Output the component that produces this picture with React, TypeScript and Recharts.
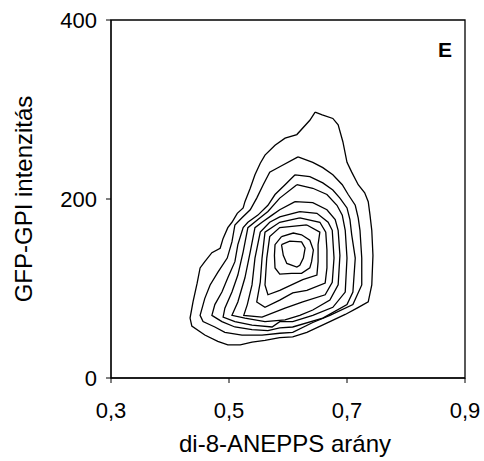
import { ScatterChart, Scatter, XAxis, YAxis, ReferenceArea, Label } from "recharts"

// contour levels, outermost first as (ratio, intensity)
const level1: [number, number][] = [
  [0.646, 297], [0.658, 294], [0.676, 290], [0.685, 283], [0.693, 264], [0.7, 241], [0.708, 230],
  [0.719, 216], [0.73, 207], [0.736, 197], [0.739, 182], [0.742, 165], [0.744, 137], [0.742, 104],
  [0.736, 85], [0.717, 78], [0.697, 71], [0.671, 63], [0.632, 51], [0.608, 46], [0.586, 45],
  [0.561, 42], [0.539, 40], [0.519, 37], [0.498, 37], [0.481, 41], [0.459, 48], [0.437, 58],
  [0.434, 67], [0.439, 85], [0.446, 106], [0.451, 123], [0.459, 130], [0.471, 140], [0.485, 145],
  [0.49, 156], [0.498, 168], [0.505, 174], [0.514, 184], [0.524, 190], [0.527, 197], [0.536, 212],
  [0.544, 227], [0.553, 240], [0.561, 249], [0.578, 260], [0.595, 268], [0.615, 272], [0.637, 288],
]
const level2: [number, number][] = [
  [0.617, 247], [0.642, 241], [0.659, 235], [0.676, 227], [0.692, 216], [0.702, 205], [0.714, 193],
  [0.719, 179], [0.722, 165], [0.725, 134], [0.725, 104], [0.71, 82], [0.671, 70], [0.642, 62],
  [0.608, 51], [0.586, 50], [0.556, 48], [0.522, 48], [0.493, 51], [0.476, 57], [0.456, 63],
  [0.451, 70], [0.459, 89], [0.468, 104], [0.481, 118], [0.497, 134], [0.505, 152], [0.51, 171],
  [0.522, 179], [0.536, 188], [0.547, 201], [0.558, 216], [0.569, 230], [0.586, 236],
]
const level3: [number, number][] = [
  [0.612, 227], [0.637, 225], [0.659, 218], [0.676, 210], [0.688, 201], [0.7, 190], [0.705, 177],
  [0.708, 160], [0.714, 134], [0.71, 96], [0.7, 82], [0.659, 67], [0.608, 57], [0.586, 56],
  [0.566, 53], [0.539, 54], [0.51, 57], [0.488, 63], [0.471, 70], [0.476, 82], [0.488, 96],
  [0.498, 112], [0.51, 130], [0.515, 149], [0.524, 168], [0.532, 174], [0.549, 182], [0.566, 193],
  [0.578, 205], [0.595, 216],
]
const level4: [number, number][] = [
  [0.615, 216], [0.642, 212], [0.666, 205], [0.683, 193], [0.692, 182], [0.697, 165], [0.7, 134],
  [0.697, 96], [0.676, 79], [0.642, 70], [0.608, 63], [0.586, 63], [0.573, 57], [0.539, 59],
  [0.51, 63], [0.49, 68], [0.493, 78], [0.505, 96], [0.515, 115], [0.524, 141], [0.532, 168],
  [0.549, 177], [0.566, 186], [0.586, 201],
]
const level5: [number, number][] = [
  [0.612, 197], [0.642, 196], [0.666, 188], [0.68, 177], [0.685, 165], [0.688, 137], [0.685, 104],
  [0.671, 87], [0.642, 76], [0.62, 70], [0.595, 65], [0.561, 63], [0.527, 67], [0.505, 70],
  [0.515, 85], [0.527, 112], [0.536, 141], [0.544, 168], [0.556, 174], [0.573, 182], [0.586, 188],
]
const level6: [number, number][] = [
  [0.62, 186], [0.649, 184], [0.668, 174], [0.675, 165], [0.678, 134], [0.675, 107], [0.663, 93],
  [0.625, 85], [0.595, 78], [0.556, 68], [0.525, 70], [0.531, 82], [0.539, 104], [0.544, 134],
  [0.553, 163], [0.569, 174], [0.586, 180],
]
const level7: [number, number][] = [
  [0.62, 179], [0.654, 174], [0.664, 163], [0.666, 143], [0.666, 123], [0.663, 106], [0.632, 98],
  [0.608, 95], [0.586, 87], [0.561, 79], [0.547, 85], [0.553, 107], [0.556, 134], [0.561, 163],
  [0.586, 174],
]
const level8: [number, number][] = [
  [0.632, 171], [0.654, 163], [0.651, 149], [0.651, 130], [0.649, 115], [0.625, 110], [0.586, 98],
  [0.566, 93], [0.561, 104], [0.564, 134], [0.569, 158], [0.586, 168],
]
const level9: [number, number][] = [
  [0.589, 158], [0.609, 162], [0.623, 160], [0.637, 154], [0.643, 143], [0.64, 130], [0.637, 123],
  [0.623, 117], [0.606, 117], [0.586, 116], [0.578, 123], [0.577, 137], [0.578, 149],
]
const level10: [number, number][] = [
  [0.589, 149], [0.603, 153], [0.623, 152], [0.629, 145], [0.626, 134], [0.62, 126], [0.615, 124],
  [0.598, 128], [0.592, 137],
]

const levels = [level1, level2, level3, level4, level5, level6, level7, level8, level9, level10]

const xTicks = [0.3, 0.5, 0.7, 0.9]
const yTicks = [0, 200, 400]

const font = "'Liberation Sans', Arial, sans-serif"

// close each ring by repeating the first point
const toRing = (pts: [number, number][]) =>
  [...pts, pts[0]].map(([x, y]) => ({ x, y }))

const NoDot = () => <g />

export default function App() {
  return (
    <div style={{ position: "absolute", left: 0, top: 0 }}>
      <ScatterChart width={484} height={461} margin={{ top: 20, right: 19, bottom: 53, left: 51 }}>
        <XAxis
          type="number"
          dataKey="x"
          domain={[0.3, 0.9]}
          ticks={xTicks}
          height={30}
          stroke="#000"
          tickSize={5}
          tickMargin={19}
          tick={{ fill: "#000", fontSize: 22, fontFamily: font }}
          tickFormatter={(v: number) => v.toFixed(1).replace(".", ",")}
        >
          <Label
            content={({ viewBox }: any) => (
              <text
                x={viewBox.x + viewBox.width / 2 - 3}
                y={452}
                textAnchor="middle"
                fontSize={24}
                fontFamily={font}
                fill="#000"
              >
                di-8-ANEPPS arány
              </text>
            )}
          />
        </XAxis>
        <YAxis
          type="number"
          dataKey="y"
          domain={[0, 400]}
          ticks={yTicks}
          width={60}
          stroke="#000"
          tickSize={5}
          tickMargin={9}
          tick={{ fill: "#000", fontSize: 22, fontFamily: font }}
        >
          <Label
            content={({ viewBox }: any) => {
              const cy = viewBox.y + viewBox.height / 2
              return (
                <text
                  x={32}
                  y={cy}
                  transform={`rotate(-90 32 ${cy})`}
                  textAnchor="middle"
                  fontSize={24}
                  fontFamily={font}
                  fill="#000"
                >
                  GFP-GPI intenzitás
                </text>
              )
            }}
          />
        </YAxis>
        <ReferenceArea
          x1={0.3}
          x2={0.9}
          y1={0}
          y2={400}
          fill="none"
          stroke="#000"
          strokeWidth={1.3}
          label={({ viewBox }: any) => (
            <text
              x={viewBox.x + viewBox.width - 13}
              y={viewBox.y + 37}
              textAnchor="end"
              fontSize={21}
              fontWeight="bold"
              fontFamily={font}
              fill="#000"
            >
              E
            </text>
          )}
        />
        {levels.map((lv, i) => (
          <Scatter
            key={i}
            data={toRing(lv)}
            line={{ stroke: "#000", strokeWidth: 1.3 }}
            lineType="joint"
            shape={NoDot}
            fill="none"
            isAnimationActive={false}
          />
        ))}
      </ScatterChart>
    </div>
  )
}
